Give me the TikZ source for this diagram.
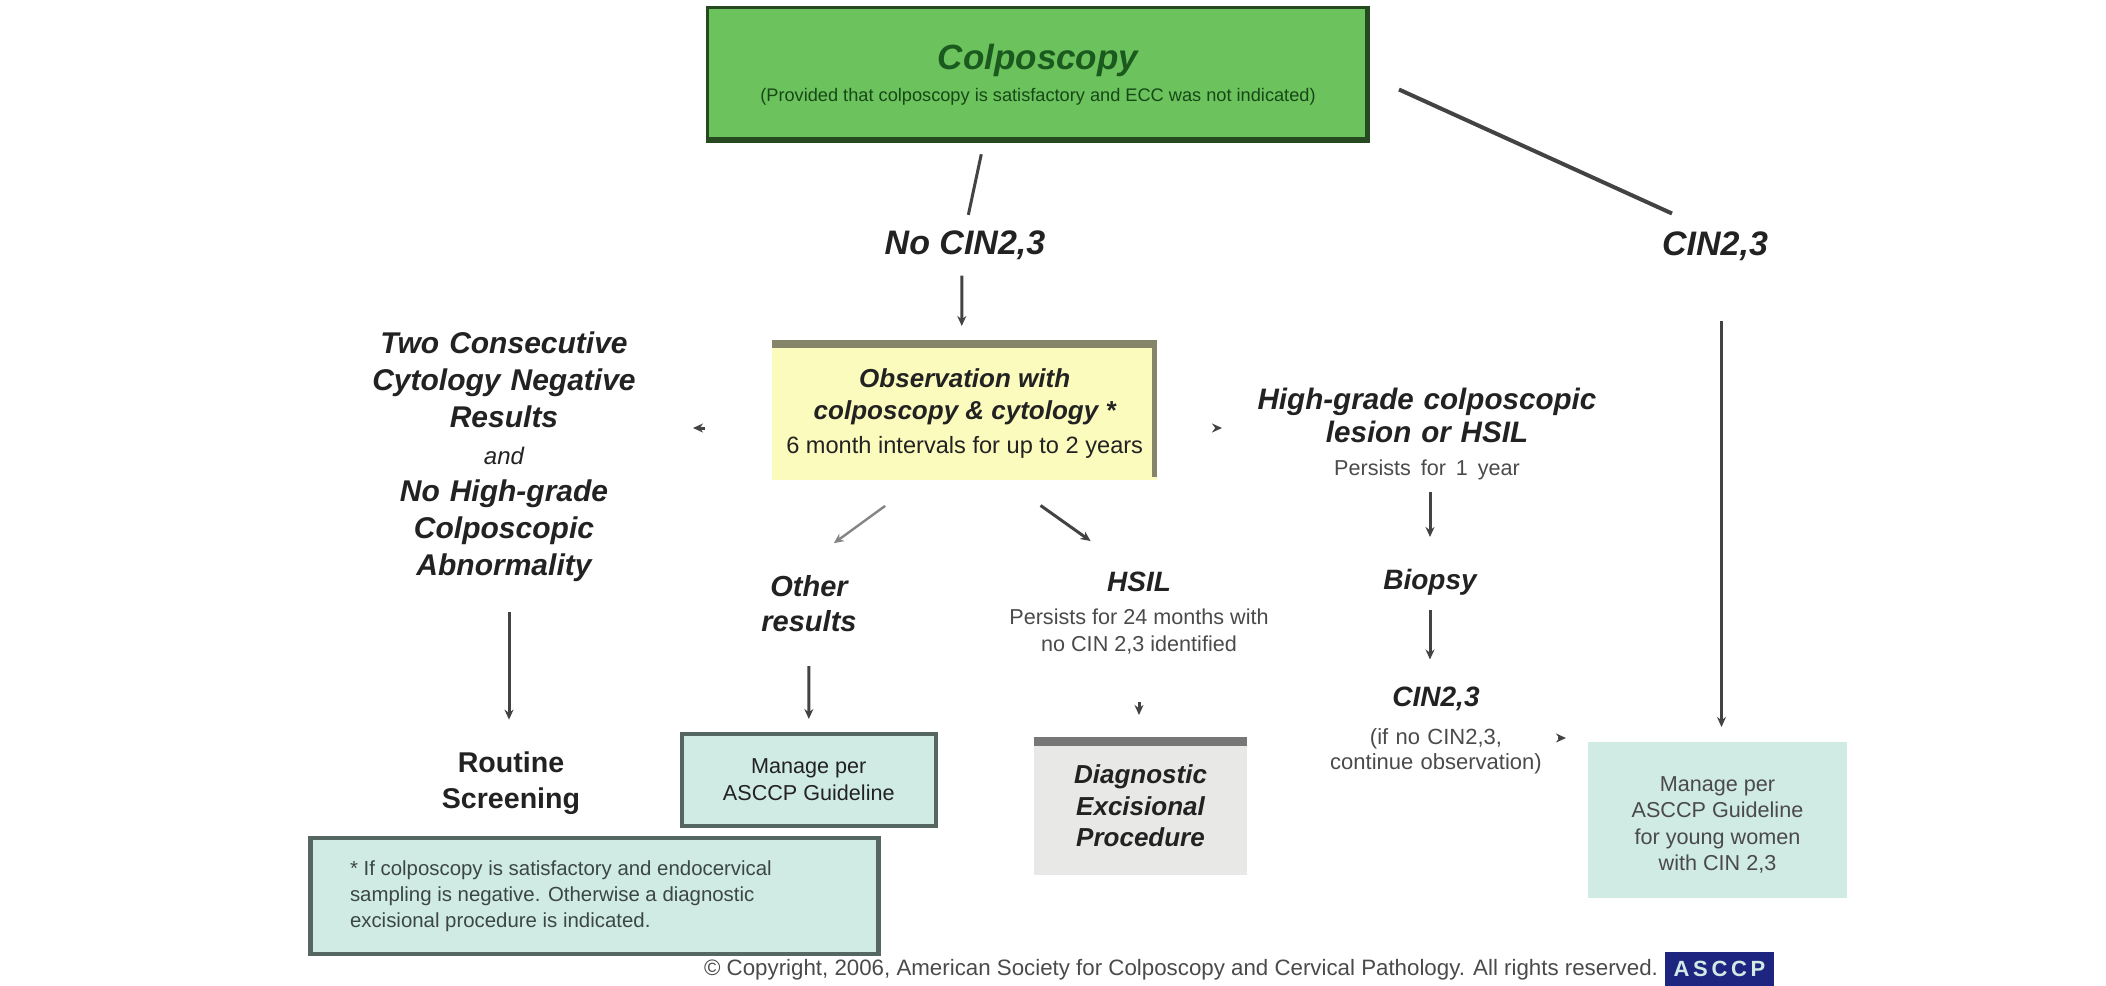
\documentclass[tikz,border=0pt]{standalone}
\usepackage{fontspec}
\setmainfont{Liberation Sans}
\usetikzlibrary{arrows.meta}
\definecolor{cgreen}{HTML}{6CC25C}
\definecolor{cgreenD}{HTML}{27491F}
\definecolor{cgreenT}{HTML}{1B5A1E}
\definecolor{cyellow}{HTML}{FBFBBE}
\definecolor{colive}{HTML}{85856A}
\definecolor{cteal}{HTML}{D0EAE4}
\definecolor{ctealD}{HTML}{566662}
\definecolor{cgrey}{HTML}{E8E8E6}
\definecolor{cgreyD}{HTML}{777777}
\definecolor{cnavy}{HTML}{1D2580}
\definecolor{cink}{HTML}{222222}
\definecolor{csub}{HTML}{4A4A4A}
\newcommand{\szz}[2]{\fontsize{#1}{#2}\selectfont}
\tikzset{
  x=0.5pt,y=-0.5pt,
  lbl/.style={inner sep=0pt,outer sep=0pt,align=center,text=cink},
  bi/.style={lbl,font=\bfseries\itshape\szz{15}{18.5}},
  conn/.style={line width=1.5pt,draw=cink!85!white,-{Stealth[length=5pt,width=4.5pt]}},
  plain/.style={line width=1.6pt,draw=cink!85!white},
  boxn/.style={inner sep=0pt,outer sep=0pt,align=center}
}
\begin{document}
\begin{tikzpicture}
\useasboundingbox (0,0) rectangle (2106,986);
% boxes
\node[boxn,fill=cgreen,draw=cgreenD,line width=1.5pt,minimum width=330.5pt,minimum height=67pt,text=cgreenT,font=\szz{9.1}{14}] (colpo) at (1038,74.5)
  {{\bfseries\itshape\szz{17.5}{20}Colposcopy}\\[2.1pt]{\color{cgreenT!80!black}(Provided that colposcopy is satisfactory and ECC was not indicated)}};
\fill[cgreenD] (colpo.north east) ++(-4,-1) rectangle ++(4,136);
\fill[cgreenD] (colpo.south west) ++(0,-5) rectangle ++(662,6);
\node[boxn,fill=cyellow,minimum width=192.5pt,minimum height=70pt,text=cink,font=\szz{13}{16}] (obs) at (964.7,410)
  {{\bfseries\itshape\rule{0pt}{13pt}Observation with}\\{\bfseries\itshape colposcopy \& cytology *}\\[1pt]{\szz{11.8}{16}6 month intervals for up to 2 years}};
\fill[colive] (obs.north west) rectangle ++(385,8);
\fill[colive] (obs.north east) ++(-5,0) rectangle ++(5,137);
\node[boxn,fill=cteal,draw=ctealD,line width=2.2pt,minimum width=127pt,minimum height=46pt,text=cink,font=\szz{10.8}{13.5}] (mgr1) at (808.8,780)
  {Manage per\\ASCCP Guideline};
\node[boxn,fill=cteal,draw=ctealD,line width=2.2pt,minimum width=284pt,minimum height=58pt] (foot) at (594.5,896) {};
\node[lbl,anchor=west,align=left,text=ctealD!70!black,font=\szz{10.2}{13}] (foott) at (350,896)
  {* If colposcopy is satisfactory and endocervical\\sampling is negative.  Otherwise a diagnostic\\excisional procedure is indicated.};
\node[boxn,fill=cgrey,minimum width=106.5pt,minimum height=69pt,text=cink,font=\bfseries\itshape\szz{13}{15.7}] (diag) at (1140.5,806)
  {Diagnostic\\Excisional\\Procedure};
\fill[cgreyD] (diag.north west) rectangle ++(213,9);
\node[boxn,fill=cteal,minimum width=129.5pt,minimum height=78pt,text=csub,font=\szz{10.8}{13.2}] (mgr2) at (1717.5,820)
  {\rule{0pt}{12.5pt}Manage per\\ASCCP Guideline\\for young women\\with CIN 2,3};
% labels
\node[bi,font=\bfseries\itshape\szz{17}{20}] (nocin) at (965,245) {No CIN2,3};
\node[bi,font=\bfseries\itshape\szz{17}{20}] (cinr) at (1715,246) {CIN2,3};
\node[bi,text width=140pt] (twoc) at (504,457)
  {Two Consecutive\\Cytology Negative\\Results\\{\mdseries\szz{12}{18.5}and}\\No High-grade\\Colposcopic\\Abnormality};
\node[lbl,text width=190pt,font=\szz{14.8}{16.7}] (high) at (1427,434)
  {{\bfseries\itshape High-grade colposcopic}\\{\bfseries\itshape lesion or HSIL}\\{\color{csub}\szz{10.8}{16}Persists for 1 year}};
\node[bi,font=\bfseries\itshape\szz{14.5}{17.5}] (other) at (809,604) {Other\\results};
\node[lbl,font=\szz{10.8}{13.5}] (hsil) at (1139,613)
  {{\bfseries\itshape\szz{14}{15.5}HSIL}\\[3pt]{\color{csub}Persists for 24 months with}\\{\color{csub}no CIN 2,3 identified}};
\node[bi,font=\bfseries\itshape\szz{14}{16}] (biop) at (1430,582) {Biopsy};
\node[lbl,text width=120pt,font=\szz{11}{12.5}] (cinb) at (1436,730)
  {{\bfseries\itshape\szz{14}{19}CIN2,3}\\[6.5pt]{\color{csub}(if no CIN2,3,}\\{\color{csub}continue observation)}};
\node[lbl,font=\bfseries\szz{14.3}{18}] (rout) at (511,783) {Routine\\Screening};
\node[lbl,text=csub,font=\szz{11.15}{12},anchor=east] (copy) at (1658,970)
  {© Copyright, 2006, American Society for Colposcopy and Cervical Pathology.  All rights reserved.};
\node[boxn,fill=cnavy,text=cteal,minimum width=54.5pt,minimum height=17pt,font=\bfseries\szz{11}{12},anchor=south west] (logo) at (1665,986)
  {A\,S\,C\,C\,P};
% connectors
\coordinate (y428) at (0,428);
\coordinate (y738) at (0,738);
\draw[plain,line width=1.5pt,shorten <=6.5pt,shorten >=8pt] ([shift={(-54,0)}]colpo.south) -- (nocin.north);
\draw[plain,line width=2pt] ([shift={(361,-52)}]colpo.south) -- ([shift={(-43,-18)}]cinr.north);
\draw[conn,shorten <=8pt,shorten >=7pt] ([shift={(-3,0)}]nocin.south) -- ([shift={(-3,0)}]obs.north);
\draw[conn,shorten <=33.5pt,shorten >=24.5pt] (y428 -| obs.west) -- (y428 -| twoc.east);
\draw[conn,shorten <=29pt,shorten >=7.5pt] (y428 -| obs.east) -- (y428 -| high.west);
\draw[conn,draw=cink!55!white,line width=1.2pt,shorten <=22pt,shorten >=27.7pt] ([shift={(-44,0)}]obs.south) -- ([shift={(-20,0)}]other.north);
\draw[conn,shorten <=22pt,shorten >=26.6pt] ([shift={(40,0)}]obs.south) -- ([shift={(-5,0)}]hsil.north);
\draw[conn,shorten <=6pt,shorten >=16pt] ([shift={(3,0)}]high.south) -- (biop.north);
\draw[conn,shorten <=7.5pt,shorten >=13.5pt] (biop.south) -- ([shift={(-6,0)}]cinb.north);
\draw[conn,shorten <=15pt,shorten >=16pt] ([shift={(5,0)}]twoc.south) -- ([shift={(-2,0)}]rout.north);
\draw[conn,shorten <=17pt,shorten >=7.5pt] (other.south) -- (mgr1.north);
\draw[conn,shorten <=24pt,shorten >=11pt] (hsil.south) -- ([shift={(-1.5,0)}]diag.north);
\draw[conn,line width=1pt,shorten <=1pt,shorten >=11pt] (y738 -| cinb.east) -- (y738 -| mgr2.west);
\draw[conn,line width=1.2pt,shorten <=30pt,shorten >=7.5pt] ([shift={(6.5,0)}]cinr.south) -- ([shift={(4,0)}]mgr2.north);
\end{tikzpicture}
\end{document}
